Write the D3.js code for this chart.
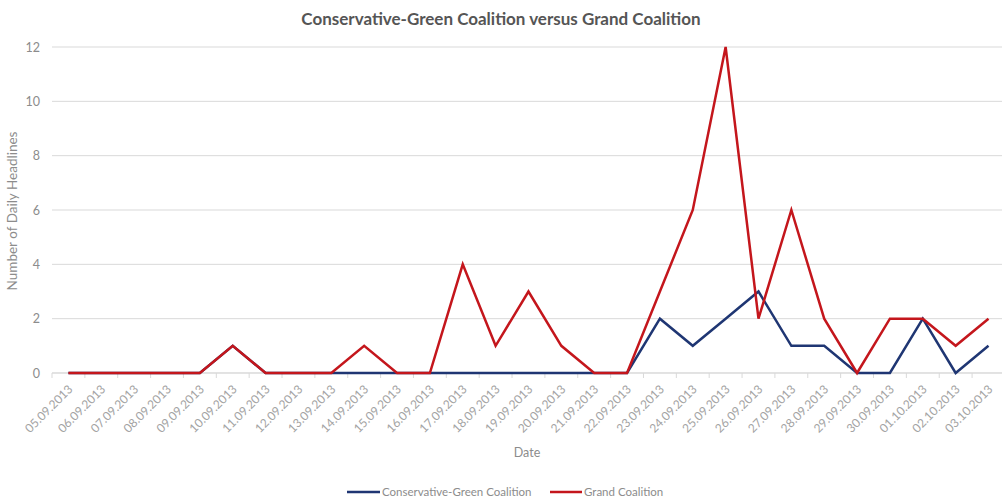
<!DOCTYPE html>
<html>
<head>
<meta charset="utf-8">
<script src="https://cdn.jsdelivr.net/npm/d3@7"></script>
<style>
  html, body { margin: 0; padding: 0; background: #fff; }
  svg { display: block; font-family: Lato, "Open Sans", sans-serif; }
</style>
</head>
<body>
<svg id="chart" width="1002" height="501"></svg>
<script>
// Daily headline counts, 5 Sept – 3 Oct 2013
const dates = ["05.09.2013","06.09.2013","07.09.2013","08.09.2013","09.09.2013","10.09.2013",
  "11.09.2013","12.09.2013","13.09.2013","14.09.2013","15.09.2013","16.09.2013","17.09.2013",
  "18.09.2013","19.09.2013","20.09.2013","21.09.2013","22.09.2013","23.09.2013","24.09.2013",
  "25.09.2013","26.09.2013","27.09.2013","28.09.2013","29.09.2013","30.09.2013","01.10.2013",
  "02.10.2013","03.10.2013"];
const conservativeGreen = [0,0,0,0,0,1,0,0,0,0,0,0,0,0,0,0,0,0,2,1,2,3,1,1,0,0,2,0,1];
const grandCoalition    = [0,0,0,0,0,1,0,0,0,1,0,0,4,1,3,1,0,0,3,6,12,2,6,2,0,2,2,1,2];
const yTicks = [0,2,4,6,8,10,12];
const seriesNames = ["Conservative-Green Coalition", "Grand Coalition"];
const seriesColors = ["#1f3673", "#c4161c"];

const svg = d3.select("#chart");
const margin = {left: 52, right: 0, top: 47, bottom: 128};
const W = 1002, H = 501;

const x = d3.scaleBand().domain(dates).range([margin.left, margin.left + 29 * 32.86]).paddingInner(0).paddingOuter(0);
const y = d3.scaleLinear().domain([0, 12]).range([H - margin.bottom, margin.top]);
const cx = d => x(d) + x.bandwidth() / 2;

// Horizontal gridlines
svg.append("g").selectAll("line").data(yTicks).join("line")
  .attr("x1", margin.left).attr("x2", W)
  .attr("y1", d => y(d)).attr("y2", d => y(d))
  .attr("stroke", "#d9d9d9").attr("stroke-width", 1);

// Y axis labels
const yAxis = d3.axisLeft(y).tickValues(yTicks).tickSize(0).tickPadding(12);
const gy = svg.append("g").attr("transform", `translate(${margin.left},0)`).call(yAxis);
gy.select(".domain").remove();
gy.selectAll("text").attr("fill", "#8c8c8c").style("font-size", "12.5px")
  .style("font-family", "Lato, 'Open Sans', sans-serif");

// X axis with tick marks on category boundaries
const gx = svg.append("g").attr("transform", `translate(0,${y(0)})`);
gx.append("line").attr("x1", margin.left).attr("x2", W).attr("stroke", "#d9d9d9");
gx.selectAll("line.tick").data(dates.concat([null])).join("line").attr("class", "tick")
  .attr("x1", (d, i) => margin.left + i * x.step()).attr("x2", (d, i) => margin.left + i * x.step())
  .attr("y1", 0).attr("y2", 5).attr("stroke", "#d9d9d9");
gx.selectAll("text").data(dates).join("text")
  .attr("transform", d => `translate(${cx(d) + 5},${17}) rotate(-45)`)
  .attr("text-anchor", "end")
  .attr("fill", "#a3a3a3")
  .style("font-size", "12px")
  .text(d => d);

// Series lines
const line = d3.line().x((d, i) => cx(dates[i])).y(d => y(d));
[conservativeGreen, grandCoalition].forEach((vals, k) => {
  svg.append("path").datum(vals)
    .attr("d", line)
    .attr("fill", "none")
    .attr("stroke", seriesColors[k])
    .attr("stroke-width", 2.5)
    .attr("stroke-linejoin", "miter");
});

// Title
svg.append("text").attr("x", 501).attr("y", 25).attr("text-anchor", "middle")
  .attr("fill", "#555555").style("font-size", "17px").style("font-weight", "bold")
  .text("Conservative-Green Coalition versus Grand Coalition");

// Axis titles
svg.append("text").attr("transform", "translate(17,211) rotate(-90)").attr("text-anchor", "middle")
  .attr("fill", "#8c8c8c").style("font-size", "13.5px").text("Number of Daily Headlines");
svg.append("text").attr("x", 527).attr("y", 457).attr("text-anchor", "middle")
  .attr("fill", "#8c8c8c").style("font-size", "12.5px").text("Date");

// Legend
const legend = [{x: 347, w: 33}, {x: 550, w: 32}];
seriesNames.forEach((name, k) => {
  const g = svg.append("g").attr("transform", `translate(${legend[k].x},492)`);
  g.append("line").attr("x1", 0).attr("x2", legend[k].w).attr("stroke", seriesColors[k]).attr("stroke-width", 2.5);
  g.append("text").attr("x", legend[k].w + 2).attr("y", 4).attr("fill", "#8c8c8c")
    .style("font-size", "11.5px").text(name);
});
</script>
</body>
</html>
